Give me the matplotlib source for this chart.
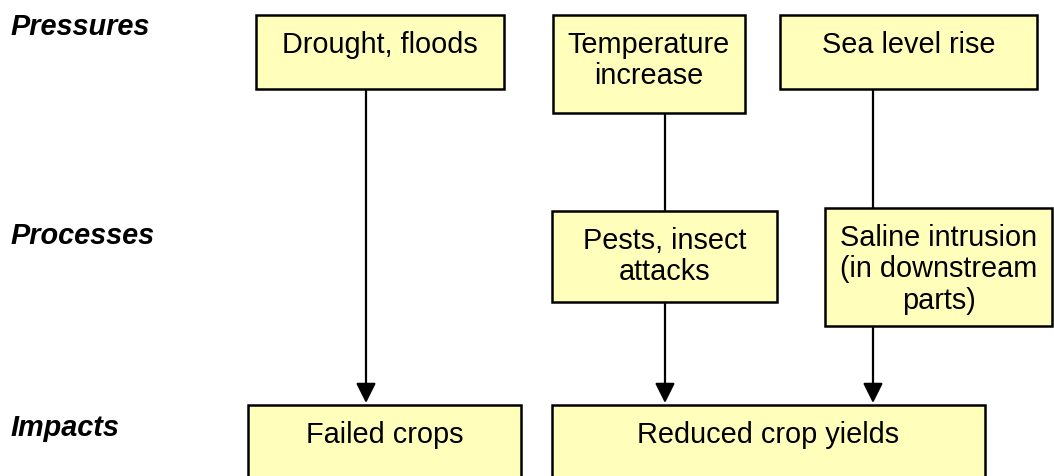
import matplotlib
matplotlib.use("Agg")
import matplotlib.pyplot as plt
from matplotlib.patches import Rectangle

plt.rcParams['font.family'] = ['Liberation Sans', 'DejaVu Sans']

# row labels on the left
row_labels = ['Pressures', 'Processes', 'Impacts']
row_baseline = [35, 244, 436]

# box texts
box_texts = ['Drought, floods',
             'Temperature\nincrease',
             'Sea level rise',
             'Pests, insect\nattacks',
             'Saline intrusion\n(in downstream\nparts)',
             'Failed crops',
             'Reduced crop yields']
# box layout in pixels: left, top, right, bottom
box_geom = [(256, 16, 504, 90),
            (553, 16, 745, 114),
            (780, 16, 1037, 90),
            (552, 212, 777, 303),
            (825, 209, 1052, 327),
            (248, 406, 521, 490),
            (552, 406, 985, 490)]

# connectors: x, y start, y end, arrow head
links = [(366, 90, 404, True),
         (665, 114, 212, False),
         (665, 303, 404, True),
         (873, 90, 209, False),
         (873, 327, 404, True)]

fig = plt.figure(figsize=(10.54, 4.77), dpi=100)
ax = fig.add_axes([0, 0, 1, 1])
ax.set_xlim(0, 1054)
ax.set_ylim(477, 0)
ax.axis('off')

fs = 20.8
for lab, yb in zip(row_labels, row_baseline):
    ax.text(10, yb, lab, fontsize=fs, fontweight='bold', fontstyle='italic',
            ha='left', va='baseline')

for (l, t, r, b), txt in zip(box_geom, box_texts):
    ax.add_patch(Rectangle((l, t), r - l, b - t, facecolor='#FFFFBB',
                           edgecolor='black', linewidth=1.8, zorder=2))
    for i, line in enumerate(txt.split('\n')):
        ax.text((l + r) / 2, t + 37 + i * 31.5, line, fontsize=fs,
                ha='center', va='baseline', zorder=3)

for x, y0, y1, head in links:
    if head:
        ax.annotate('', xy=(x, y1), xytext=(x, y0),
                    arrowprops=dict(arrowstyle='-|>', mutation_scale=30,
                                    lw=1.6, color='black',
                                    shrinkA=0, shrinkB=0), zorder=1)
    else:
        ax.plot([x, x], [y0, y1], color='black', lw=1.6, zorder=1)

fig.savefig('out.png', dpi=100)
